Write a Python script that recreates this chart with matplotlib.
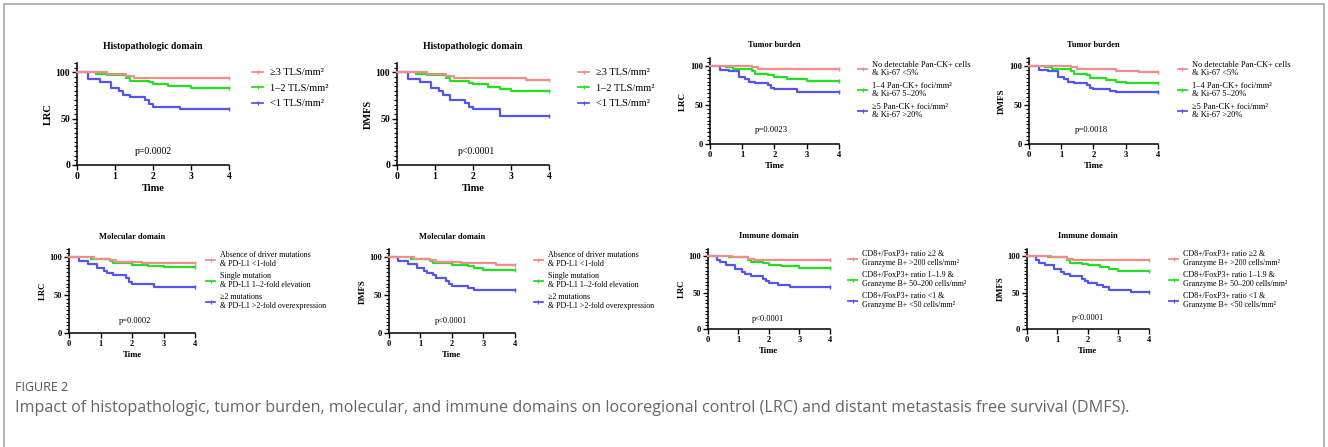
import matplotlib.pyplot as plt
from matplotlib.ticker import MultipleLocator
from matplotlib.lines import Line2D

plt.rcParams['font.family'] = ['Liberation Serif', 'DejaVu Serif']

colors = ['#F28B8B', '#22E022', '#5555EE']

# step curves as (time, survival %) pairs
# Histopathologic domain
hist_lrc_high = [(0, 100), (0.8, 98), (1.3, 96), (1.5, 94), (4, 94)]
hist_lrc_mid = [(0.5, 98), (0.8, 97), (1.3, 94), (1.4, 91), (1.9, 89), (2.0, 87), (2.4, 85), (3.0, 83), (4, 83)]
hist_lrc_low = [(0, 100), (0.3, 93), (0.6, 90), (0.9, 83), (1.1, 80), (1.2, 76), (1.4, 73), (1.8, 70), (1.9, 66), (2.0, 63), (2.7, 60), (4, 60)]
hist_dmfs_high = [(0, 100), (0.8, 98), (1.3, 96), (1.5, 94), (3.4, 92), (4, 92)]
hist_dmfs_mid = [(0.5, 98), (0.8, 97), (1.3, 94), (1.4, 91), (1.9, 88), (2.0, 87), (2.4, 84), (2.7, 82), (3.0, 80), (4, 80)]
hist_dmfs_low = [(0, 100), (0.3, 93), (0.6, 90), (0.9, 83), (1.1, 80), (1.2, 76), (1.4, 70), (1.8, 67), (1.9, 63), (2.0, 60), (2.7, 53), (4, 53)]

# Tumor burden
tumor_lrc_high = [(0, 100), (1.3, 98), (1.5, 96), (4, 96)]
tumor_lrc_mid = [(0.5, 98), (0.7, 96), (1.3, 93), (1.4, 90), (1.8, 88), (2.0, 86), (2.4, 83), (3.0, 81), (4, 81)]
tumor_lrc_low = [(0, 100), (0.3, 95), (0.6, 93), (0.9, 86), (1.1, 83), (1.2, 80), (1.4, 78), (1.8, 75), (1.9, 72), (2.0, 70), (2.7, 67), (4, 67)]
tumor_dmfs_high = [(0, 100), (1.3, 98), (1.5, 96), (2.7, 94), (3.4, 92), (4, 92)]
tumor_dmfs_mid = [(0.5, 98), (0.7, 96), (1.3, 93), (1.4, 89), (1.8, 88), (1.9, 85), (2.4, 82), (2.7, 80), (3.0, 78), (4, 78)]
tumor_dmfs_low = [(0, 100), (0.3, 95), (0.6, 93), (0.9, 86), (1.1, 83), (1.2, 80), (1.4, 78), (1.8, 75), (1.9, 72), (2.0, 70), (2.5, 68), (2.7, 66), (4, 66)]

# Molecular domain
mol_lrc_high = [(0, 100), (0.8, 98), (1.3, 96), (1.5, 94), (2.3, 92), (4, 92)]
mol_lrc_mid = [(0.7, 98), (1.3, 95), (1.4, 92), (2.0, 90), (2.5, 88), (3.0, 87), (4, 87)]
mol_lrc_low = [(0, 100), (0.3, 95), (0.6, 91), (0.9, 85), (1.1, 82), (1.2, 79), (1.4, 76), (1.8, 73), (1.9, 67), (2.0, 64), (2.7, 61), (4, 61)]
mol_dmfs_high = [(0, 100), (0.8, 98), (1.3, 96), (1.5, 94), (2.3, 92), (3.4, 90), (4, 90)]
mol_dmfs_mid = [(0.7, 98), (1.3, 95), (1.4, 92), (2.0, 90), (2.5, 88), (2.7, 85), (3.0, 83), (4, 83)]
mol_dmfs_low = [(0, 100), (0.3, 95), (0.6, 91), (0.9, 85), (1.1, 82), (1.2, 79), (1.4, 76), (1.5, 73), (1.8, 69), (1.9, 65), (2.0, 62), (2.5, 59), (2.7, 56), (4, 56)]

# Immune domain
imm_lrc_high = [(0, 100), (0.8, 98), (1.3, 96), (1.5, 94), (4, 94)]
imm_lrc_mid = [(0.7, 98), (1.3, 95), (1.4, 92), (1.8, 90), (2.0, 88), (2.4, 86), (3.0, 84), (4, 84)]
imm_lrc_low = [(0, 100), (0.3, 95), (0.4, 92), (0.6, 88), (0.9, 82), (1.1, 78), (1.2, 75), (1.4, 72), (1.8, 69), (1.9, 66), (2.0, 63), (2.3, 60), (2.7, 57), (4, 57)]
imm_dmfs_high = [(0, 100), (0.8, 98), (1.3, 96), (1.5, 94), (4, 94)]
imm_dmfs_mid = [(0.7, 98), (1.3, 95), (1.4, 91), (1.8, 89), (2.0, 87), (2.4, 85), (2.7, 82), (3.0, 80), (4, 80)]
imm_dmfs_low = [(0, 100), (0.3, 95), (0.4, 91), (0.6, 87), (0.9, 82), (1.1, 78), (1.2, 75), (1.4, 72), (1.8, 69), (1.9, 66), (2.0, 63), (2.3, 60), (2.5, 57), (2.7, 54), (3.4, 51), (4, 51)]

hist_labels = ['≥3 TLS/mm²', '1–2 TLS/mm²', '<1 TLS/mm²']
tumor_labels = ['No detectable Pan-CK+ cells\n& Ki-67 <5%',
                '1–4 Pan-CK+ foci/mm²\n& Ki-67 5–20%',
                '≥5 Pan-CK+ foci/mm²\n& Ki-67 >20%']
mol_labels = ['Absence of driver mutations\n& PD-L1 <1-fold',
              'Single mutation\n& PD-L1 1–2-fold elevation',
              '≥2 mutations\n& PD-L1 >2-fold overexpression']
imm_labels = ['CD8+/FoxP3+ ratio ≥2 &\nGranzyme B+ >200 cells/mm²',
              'CD8+/FoxP3+ ratio 1–1.9 &\nGranzyme B+ 50–200 cells/mm²',
              'CD8+/FoxP3+ ratio <1 &\nGranzyme B+ <50 cells/mm²']

p_values = ['p=0.0002', 'p<0.0001', 'p=0.0023', 'p=0.0018',
            'p=0.0002', 'p<0.0001', 'p<0.0001', 'p<0.0001']

fig = plt.figure(figsize=(13.28, 4.47), dpi=100)

# font sizes and spacings for each row of panels
big = dict(title=7, tick=7, lab=7.5, leg=7.5, p=7, pad=10, ls=1.2, lsp=0.6)
small = dict(title=6, tick=6.2, lab=6.5, leg=6, p=6.2, pad=8, ls=1.0, lsp=0.6)
bottom = dict(title=6, tick=6, lab=6.3, leg=5.8, p=6, pad=7.5, ls=1.1, lsp=0.55)

panels = [
    ([0.058, 0.631, 0.1145, 0.228], [hist_lrc_high, hist_lrc_mid, hist_lrc_low], hist_labels,
     'Histopathologic domain', 'LRC', (2.0, 14), (1.15, 0.95), big),
    ([0.299, 0.631, 0.1145, 0.228], [hist_dmfs_high, hist_dmfs_mid, hist_dmfs_low], hist_labels,
     'Histopathologic domain', 'DMFS', (2.08, 14), (1.19, 0.95), big),
    ([0.5346, 0.678, 0.0971, 0.192], [tumor_lrc_high, tumor_lrc_mid, tumor_lrc_low], tumor_labels,
     'Tumor burden', 'LRC', (1.9, 18), (1.15, 0.97), small),
    ([0.7748, 0.678, 0.0971, 0.192], [tumor_dmfs_high, tumor_dmfs_mid, tumor_dmfs_low], tumor_labels,
     'Tumor burden', 'DMFS', (1.95, 18), (1.155, 0.97), small),
    ([0.052, 0.255, 0.0949, 0.187], [mol_lrc_high, mol_lrc_mid, mol_lrc_low], mol_labels,
     'Molecular domain', 'LRC', (2.1, 16), (1.09, 0.98), bottom),
    ([0.2929, 0.255, 0.0949, 0.187], [mol_dmfs_high, mol_dmfs_mid, mol_dmfs_low], mol_labels,
     'Molecular domain', 'DMFS', (1.97, 16), (1.15, 0.98), bottom),
    ([0.5331, 0.264, 0.0919, 0.1796], [imm_lrc_high, imm_lrc_mid, imm_lrc_low], imm_labels,
     'Immune domain', 'LRC', (1.97, 14), (1.15, 0.98), bottom),
    ([0.7733, 0.264, 0.0919, 0.1796], [imm_dmfs_high, imm_dmfs_mid, imm_dmfs_low], imm_labels,
     'Immune domain', 'DMFS', (2.0, 15), (1.165, 0.98), bottom),
]

for i, (rect, curves, labels, title, ylab, ppos, anchor, fs) in enumerate(panels):
    ax = fig.add_axes(rect)
    handles = []
    for k, (curve, c) in enumerate(zip(curves, colors)):
        t = [p[0] for p in curve]
        s = [p[1] for p in curve]
        ax.step(t, s, where='post', color=c, lw=1.6, zorder=4 - k, clip_on=False)
        ax.plot(t[-1], s[-1], marker='|', ms=3.5, mew=1.0, color=c, zorder=4 - k, clip_on=False)
        handles.append(Line2D([], [], color=c, lw=1.3, marker='|', ms=3, mew=0.9))

    ax.set_xlim(0, 4)
    ax.set_ylim(0, 110)
    ax.xaxis.set_major_locator(MultipleLocator(1))
    ax.yaxis.set_major_locator(MultipleLocator(50))
    ax.yaxis.set_minor_locator(MultipleLocator(5))
    for side in ['top', 'right']:
        ax.spines[side].set_visible(False)
    for side in ['left', 'bottom']:
        ax.spines[side].set_linewidth(1.1)
    ax.tick_params(axis='both', which='major', length=3.5, width=1.0, labelsize=fs['tick'], pad=1.5)
    ax.tick_params(axis='y', which='minor', length=2, width=0.8)
    for lbl in ax.get_xticklabels() + ax.get_yticklabels():
        lbl.set_fontweight('bold')

    ax.set_title(title, fontsize=fs['title'], fontweight='bold', pad=fs['pad'])
    ax.set_xlabel('Time', fontsize=fs['lab'], fontweight='bold', labelpad=2)
    ax.set_ylabel(ylab, fontsize=fs['lab'], fontweight='bold', labelpad=2)
    ax.text(ppos[0], ppos[1], p_values[i], fontsize=fs['p'], ha='center', va='center')

    leg = ax.legend(handles, labels, loc='upper left', bbox_to_anchor=anchor, frameon=False,
                    fontsize=fs['leg'], handlelength=1.1, handletextpad=0.6,
                    borderpad=0, borderaxespad=0, labelspacing=fs['lsp'])
    for txt in leg.get_texts():
        txt.set_linespacing(fs['ls'])

# page frame and caption
frame_kw = dict(color='#A8A8A8', lw=1.2, transform=fig.transFigure)
fig.add_artist(Line2D([0.003, 0.997], [0.991, 0.991], **frame_kw))
fig.add_artist(Line2D([0.003, 0.003], [0, 0.991], **frame_kw))
fig.add_artist(Line2D([0.997, 0.997], [0, 0.991], **frame_kw))

fig.text(0.0113, 0.134, 'FIGURE 2', fontsize=9, family='Open Sans', color='#555555', va='center')
fig.text(0.0113, 0.087,
         'Impact of histopathologic, tumor burden, molecular, and immune domains on locoregional '
         'control (LRC) and distant metastasis free survival (DMFS).',
         fontsize=11.6, family='Open Sans', color='#666666', va='center')

fig.savefig('out.png', dpi=100)
